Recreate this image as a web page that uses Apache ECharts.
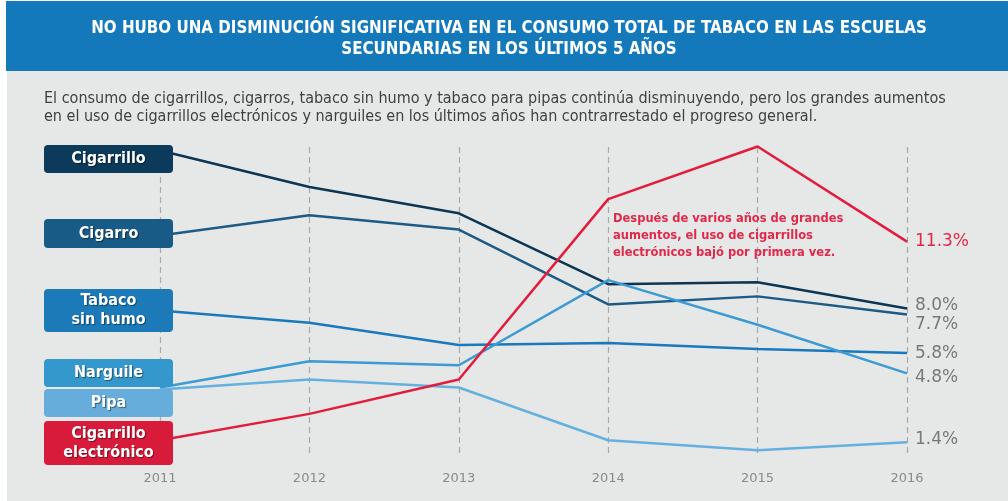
<!DOCTYPE html>
<html>
<head>
    <meta charset="utf-8">
    <title>Consumo de tabaco</title>
    <script src="https://cdn.jsdelivr.net/npm/echarts@6/dist/echarts.min.js"></script>
    <style>
        html, body { margin: 0; padding: 0; background: #ffffff; }
        #chart { width: 1008px; height: 501px; }
    </style>
</head>
<body>
<div id="chart"></div>
<script>
    // datos (%)
    var years = ['2011', '2012', '2013', '2014', '2015', '2016'];
    var seriesNames = ['Cigarrillo', 'Cigarro', 'Tabaco sin humo', 'Narguile', 'Pipa', 'Cigarrillo electrónico'];
    var boxLabels = ['Cigarrillo', 'Cigarro', 'Tabaco\nsin humo', 'Narguile', 'Pipa', 'Cigarrillo\nelectrónico'];
    var cigarrillo = [15.8, 14.0, 12.7, 9.2, 9.3, 8.0];
    var cigarro = [11.6, 12.6, 11.9, 8.2, 8.6, 7.7];
    var sinHumo = [7.9, 7.3, 6.2, 6.3, 6.0, 5.8];
    var narguile = [4.1, 5.4, 5.2, 9.4, 7.2, 4.8];
    var pipa = [4.0, 4.5, 4.1, 1.5, 1.0, 1.4];
    var electronico = [1.5, 2.8, 4.5, 13.4, 16.0, 11.3];
    var allValues = [cigarrillo, cigarro, sinHumo, narguile, pipa, electronico];

    var lineColors = ['#0c3653', '#1c5b88', '#1879bd', '#3a9bd5', '#64b1e0', '#e31c3d'];
    var boxColors = ['#0b3a5b', '#175b86', '#1c7ab9', '#3598cd', '#66addb', '#d81b3b'];
    // posicion vertical de las cajas de leyenda (arriba, alto)
    var boxPos = [[145, 28], [219, 29], [289, 43], [359, 28], [389, 28], [421, 44]];
    var labelOffsets = [[0, -3], [0, 10], [0, 0], [0, 4], [0, -3], [0, 0]];

    var chart = echarts.init(document.getElementById('chart'));

    var series = allValues.map(function (vals, i) {
        return {
            name: seriesNames[i],
            type: 'line',
            data: vals,
            symbol: 'none',
            z: 5 + (i === 5 ? 3 : 0),
            lineStyle: { color: lineColors[i], width: 2.5 },
            endLabel: {
                show: true,
                distance: 8,
                offset: labelOffsets[i],
                formatter: function (p) { return p.value.toFixed(1) + '%'; },
                color: i === 5 ? '#e0294a' : '#77787b',
                fontFamily: 'DejaVu Sans',
                fontSize: 17
            }
        };
    });

    // fondo, textos y cajas de leyenda
    var graphics = [
        { type: 'rect', shape: { x: 0, y: 0, width: 1008, height: 501 }, style: { fill: '#ffffff' }, z: -10, silent: true },
        { type: 'rect', shape: { x: 6, y: 1, width: 1002, height: 70 }, style: { fill: '#1479bb' }, z: -9, silent: true },
        { type: 'rect', shape: { x: 7, y: 71, width: 1001, height: 430 }, style: { fill: '#e6e7e7' }, z: -9, silent: true },
        {
            type: 'text', x: 509, y: 18, z: 10,
            style: {
                text: 'NO HUBO UNA DISMINUCIÓN SIGNIFICATIVA EN EL CONSUMO TOTAL DE TABACO EN LAS ESCUELAS\nSECUNDARIAS EN LOS ÚLTIMOS 5 AÑOS',
                fill: '#ffffff', font: 'bold 16.8px "DejaVu Sans Condensed", sans-serif',
                align: 'center', lineHeight: 21
            }
        },
        {
            type: 'text', x: 44, y: 90, z: 10,
            style: {
                text: 'El consumo de cigarrillos, cigarros, tabaco sin humo y tabaco para pipas continúa disminuyendo, pero los grandes aumentos\nen el uso de cigarrillos electrónicos y narguiles en los últimos años han contrarrestado el progreso general.',
                fill: '#3f3f3f', font: '16px "DejaVu Sans Condensed", sans-serif',
                lineHeight: 18
            }
        },
        {
            type: 'text', x: 613, y: 211, z: 10,
            style: {
                text: 'Después de varios años de grandes\naumentos, el uso de cigarrillos\nelectrónicos bajó por primera vez.',
                fill: '#e0294a', font: 'bold 11.5px "DejaVu Sans", sans-serif',
                lineHeight: 17
            }
        }
    ];
    boxLabels.forEach(function (lbl, i) {
        graphics.push({
            type: 'group', x: 44, y: boxPos[i][0], z: 20,
            children: [
                { type: 'rect', z: 20, shape: { x: 0, y: 0, width: 129, height: boxPos[i][1], r: 4 }, style: { fill: boxColors[i] } },
                {
                    type: 'text', z: 21, x: 64.5, y: boxPos[i][1] / 2,
                    style: {
                        text: lbl, fill: '#ffffff', align: 'center', verticalAlign: 'middle',
                        font: 'bold 16px "DejaVu Sans Condensed", sans-serif', lineHeight: 19,
                        textShadowColor: 'rgba(0,0,0,0.45)', textShadowOffsetX: 1, textShadowOffsetY: 1, textShadowBlur: 1
                    }
                }
            ]
        });
    });

    var option = {
        animation: false,
        graphic: graphics,
        grid: [
            { left: 160, right: 101, top: 126.2, bottom: 30.4 },
            { left: 160, right: 101, top: 147, bottom: 46 }
        ],
        xAxis: [
            {
                type: 'category', data: years, boundaryGap: false, gridIndex: 0,
                axisLine: { show: false }, axisTick: { show: false }, splitLine: { show: false },
                axisLabel: { margin: 2, color: '#8a8a8a', fontSize: 13, fontFamily: 'DejaVu Sans' }
            },
            {
                type: 'category', data: years, boundaryGap: false, gridIndex: 1,
                axisLine: { show: false }, axisTick: { show: false }, axisLabel: { show: false },
                splitLine: { show: true, lineStyle: { color: '#a9a9a9', type: [6, 4], width: 1.2 } }
            }
        ],
        yAxis: [
            { type: 'value', min: 0, max: 17, gridIndex: 0, show: false },
            { type: 'value', gridIndex: 1, show: false }
        ],
        series: series
    };

    chart.setOption(option);

    window.onresize = function () {
        chart.resize();
    };
</script>
</body>
</html>
